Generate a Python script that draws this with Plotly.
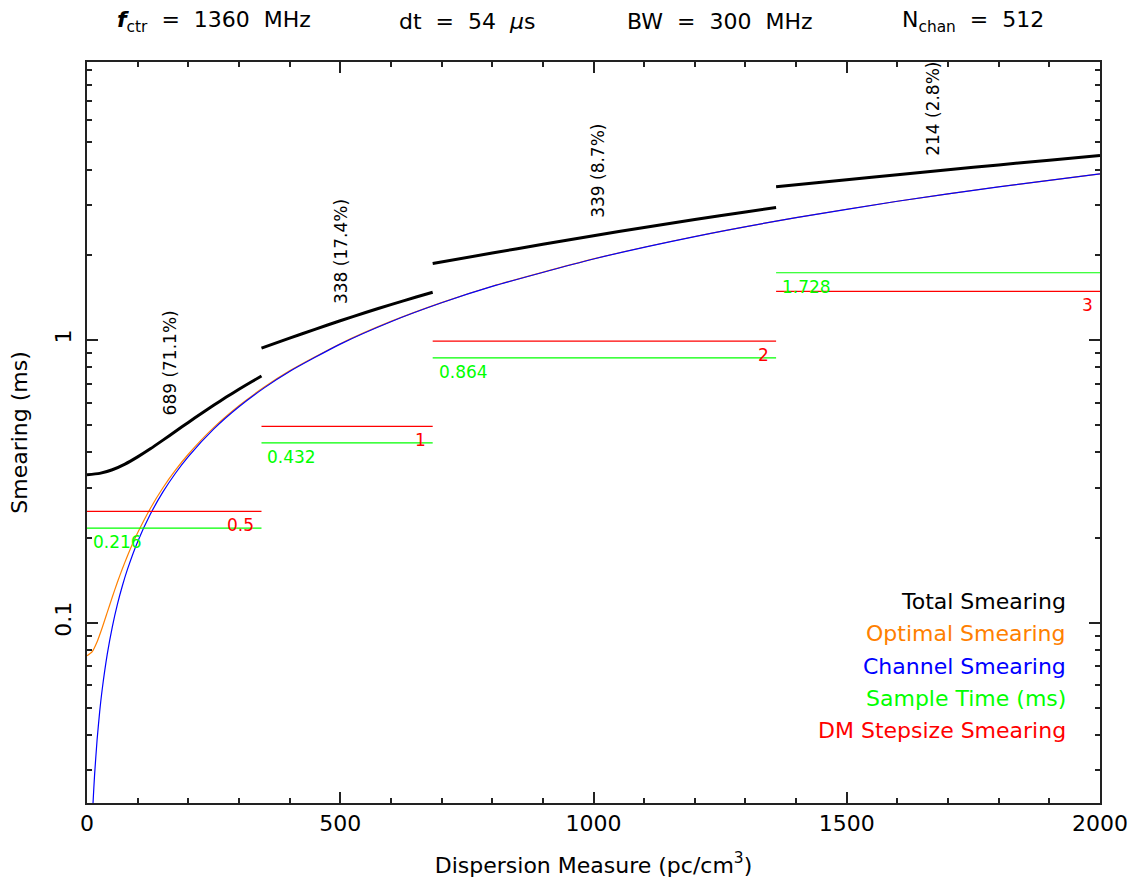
import numpy as np
import plotly.graph_objects as go

# ---------------- data ----------------
seg_bounds = [0.0, 344.5, 682.5, 1360.5, 2002.5]
seg_counts = [689, 338, 339, 214]
seg_pcts = [71.1, 17.4, 8.7, 2.8]
dm_step_labels = ["0.5", "1", "2", "3"]
dm_step_smear = [0.2474, 0.4948, 0.9897, 1.4845]
sample_times = [0.216, 0.432, 0.864, 1.728]
sample_labels = ["0.216", "0.432", "0.864", "1.728"]
seg_label_dm = [164, 503, 1009, 1670]
seg_label_ms = [0.53, 1.32, 2.66, 4.40]

chan_dm = [10, 12, 15, 20, 25, 30, 40, 50, 60, 70, 80, 100, 125, 150, 175, 200,
           250, 300, 350, 400, 500, 600, 700, 800, 1000, 1200, 1400, 1600, 1800, 2000]
chan_ms = [0.01933, 0.02320, 0.02900, 0.03866, 0.04833, 0.05799, 0.07732, 0.09665,
           0.1160, 0.1353, 0.1546, 0.1933, 0.2416, 0.2900, 0.3383, 0.3866, 0.4833,
           0.5799, 0.6766, 0.7732, 0.9665, 1.160, 1.353, 1.546, 1.933, 2.320, 2.706,
           3.093, 3.480, 3.866]

opt_dm = [0, 10, 20, 30, 40, 50, 60, 70, 80, 90, 100, 125, 150, 175, 200, 250, 300,
          350, 400, 500, 600, 700, 800, 1000, 1200, 1400, 1600, 1800, 2000]
opt_ms = [0.0764, 0.0788, 0.0856, 0.0959, 0.1087, 0.1232, 0.1389, 0.1554, 0.1724,
          0.1900, 0.2078, 0.2534, 0.2999, 0.3468, 0.3941, 0.4893, 0.5849, 0.6809,
          0.7770, 0.9695, 1.1625, 1.3552, 1.5479, 1.9345, 2.3213, 2.7071, 3.0939,
          3.4808, 3.8668]

tot1_dm = [0, 25, 50, 75, 100, 125, 150, 175, 200, 225, 250, 275, 300, 325, 344.5]
tot1_ms = [0.3337, 0.3372, 0.3474, 0.3638, 0.3857, 0.4120, 0.4421, 0.4752, 0.5107,
           0.5482, 0.5873, 0.6277, 0.6691, 0.7114, 0.7449]
tot2_dm = [344.5, 400, 450, 500, 550, 600, 650, 682.5]
tot2_ms = [0.9354, 1.0145, 1.0900, 1.1686, 1.2497, 1.3331, 1.4178, 1.4738]
tot3_dm = [682.5, 800, 900, 1000, 1100, 1200, 1300, 1360.5]
tot3_ms = [1.8619, 2.0288, 2.1801, 2.3372, 2.4995, 2.6662, 2.8357, 2.9399]
tot4_dm = [1360.5, 1500, 1600, 1700, 1800, 1900, 2000]
tot4_ms = [3.4795, 3.6875, 3.8414, 3.9987, 4.1593, 4.3220, 4.4873]

legend_labels = ["Total Smearing", "Optimal Smearing", "Channel Smearing",
                 "Sample Time (ms)", "DM Stepsize Smearing"]

# ---------------- styling ----------------
FONT = "DejaVu Sans"
BLACK = "#000000"
ORANGE = "#FF8000"
BLUE = "#0000FF"
GREEN = "#00FF00"
RED = "#FF0000"
legend_colors = [BLACK, ORANGE, BLUE, GREEN, RED]

fig = go.Figure()

# optimal + channel
fig.add_trace(go.Scatter(x=opt_dm, y=opt_ms, mode="lines",
                         line=dict(color=ORANGE, width=1.2, shape="spline", smoothing=0.6)))
fig.add_trace(go.Scatter(x=chan_dm, y=chan_ms, mode="lines",
                         line=dict(color=BLUE, width=1.2, shape="spline", smoothing=0.6)))

# sample time and DM step lines per segment
for i in range(4):
    lo, hi = seg_bounds[i], seg_bounds[i + 1]
    fig.add_trace(go.Scatter(x=[lo, hi], y=[sample_times[i]] * 2, mode="lines",
                             line=dict(color=GREEN, width=1.2)))
    fig.add_trace(go.Scatter(x=[lo, hi], y=[dm_step_smear[i]] * 2, mode="lines",
                             line=dict(color=RED, width=1.2)))

# total smearing segments
for xs, ys in [(tot1_dm, tot1_ms), (tot2_dm, tot2_ms), (tot3_dm, tot3_ms), (tot4_dm, tot4_ms)]:
    fig.add_trace(go.Scatter(x=xs, y=ys, mode="lines",
                             line=dict(color=BLACK, width=3, shape="spline", smoothing=0.6)))

ann = []
# segment count labels
for i in range(4):
    ann.append(dict(x=seg_label_dm[i], y=np.log10(seg_label_ms[i]), xref="x", yref="y",
                    text=f"{seg_counts[i]} ({seg_pcts[i]}%)", textangle=-90,
                    showarrow=False, xanchor="center", yanchor="bottom",
                    font=dict(family=FONT, size=17, color=BLACK)))
    # sample time label (left aligned, below line)
    ann.append(dict(x=seg_bounds[i], y=np.log10(sample_times[i]), xref="x", yref="y",
                    text=sample_labels[i], showarrow=False, xanchor="left", yanchor="middle",
                    xshift=4, yshift=-14, font=dict(family=FONT, size=17, color=GREEN)))
    # dm step label (right aligned, below line)
    ann.append(dict(x=min(seg_bounds[i + 1], 2000), y=np.log10(dm_step_smear[i]), xref="x", yref="y",
                    text=dm_step_labels[i], showarrow=False, xanchor="right", yanchor="middle",
                    xshift=-5, yshift=-14, font=dict(family=FONT, size=17, color=RED)))

# legend text
leg_y = [0.2726, 0.2281, 0.1842, 0.1404, 0.0976]
for lab, col, yy in zip(legend_labels, legend_colors, leg_y):
    ann.append(dict(x=0.9687, y=yy, xref="paper", yref="paper", text=lab, showarrow=False,
                    xanchor="right", yanchor="middle", font=dict(family=FONT, size=22, color=col)))

# title items
titles = ["<b><i>f</i></b><sub>ctr</sub>  =  1360  MHz", "dt  =  54  <i>μ</i>s",
          "BW  =  300  MHz", "N<sub>chan</sub>  =  512"]
for t, xx in zip(titles, [0.125, 0.375, 0.625, 0.875]):
    ann.append(dict(x=xx, y=1.0553, xref="paper", yref="paper", text=t, showarrow=False,
                    xanchor="center", yanchor="middle", font=dict(family=FONT, size=22, color=BLACK)))

axis_common = dict(showline=True, linecolor="#222222", linewidth=1.5, mirror="allticks",
                   ticks="inside", ticklen=11, tickwidth=1.5, tickcolor="#222222",
                   showgrid=False, zeroline=False, automargin=False,
                   tickfont=dict(family=FONT, size=22, color=BLACK))

fig.update_layout(
    width=1138, height=883,
    margin=dict(l=87, r=38, t=62, b=80),
    paper_bgcolor="white", plot_bgcolor="white",
    showlegend=False,
    annotations=ann,
    xaxis=dict(range=[0, 2000], dtick=500, tick0=0,
               minor=dict(ticks="inside", dtick=100, ticklen=5.5, tickwidth=1.5, tickcolor="#222222"),
               title=dict(text="Dispersion Measure (pc/cm<sup>3</sup>)",
                          font=dict(family=FONT, size=22, color=BLACK), standoff=22),
               **axis_common),
    yaxis=dict(type="log", range=[-1.638, 0.983], dtick=1,
               minor=dict(ticks="inside", dtick="D1", ticklen=5.5, tickwidth=1.5, tickcolor="#222222"),
               tickangle=-90, ticklabelstandoff=5,
               title=dict(text="Smearing (ms)", font=dict(family=FONT, size=22, color=BLACK), standoff=18),
               **axis_common),
)

fig.write_html("out.html")
